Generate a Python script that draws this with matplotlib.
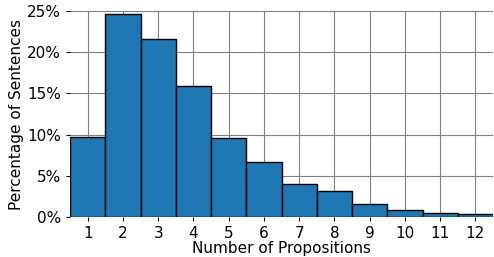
import matplotlib
matplotlib.use("Agg")
import matplotlib.pyplot as plt
from matplotlib.ticker import PercentFormatter

props = [1, 2, 3, 4, 5, 6, 7, 8, 9, 10, 11, 12]
pct = [9.7, 24.6, 21.6, 15.9, 9.6, 6.7, 4.0, 3.2, 1.6, 0.85, 0.55, 0.4]

fig, ax = plt.subplots(figsize=(4.94, 2.57), dpi=100)
ax.bar(props, pct, width=1.0, color="#1f77b4", edgecolor="black", linewidth=1, zorder=2)
ax.set_xlim(0.5, 12.5)
ax.set_ylim(0, 25)
ax.set_xticks(props)
ax.set_yticks([0, 5, 10, 15, 20, 25])
ax.yaxis.set_major_formatter(PercentFormatter(decimals=0))
ax.grid(True, color="gray", linewidth=0.8, zorder=0)
ax.set_axisbelow(True)
for s in ax.spines.values():
    s.set_visible(False)
ax.tick_params(labelsize=11, length=3)
ax.set_xlabel("Number of Propositions", fontsize=11, labelpad=0)
ax.set_ylabel("Percentage of Sentences", fontsize=11, labelpad=2)
fig.subplots_adjust(left=0.142, right=0.998, top=0.957, bottom=0.155)
fig.savefig("out.png")
